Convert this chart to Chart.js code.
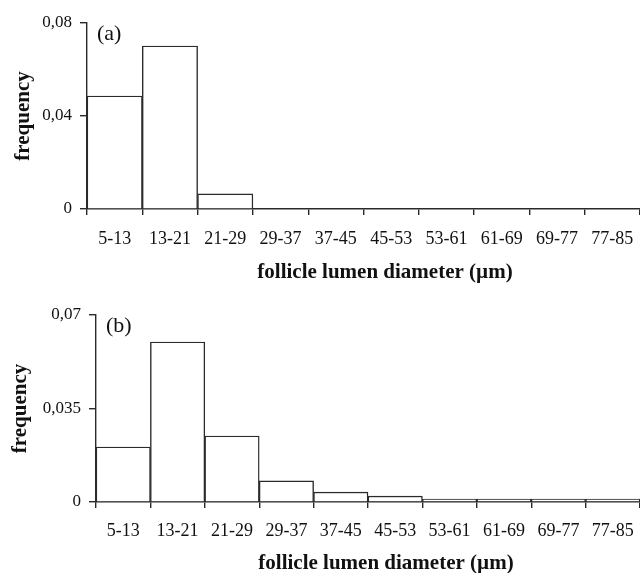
<!DOCTYPE html>
<html>
<head>
<meta charset="utf-8">
<script src="https://cdn.jsdelivr.net/npm/chart.js@4.4.1/dist/chart.umd.min.js"></script>
<style>
  html, body { margin: 0; padding: 0; background: #fff; }
  #wrap { position: relative; width: 640px; height: 573px; overflow: hidden; }
  .panel { position: absolute; left: 0; width: 640px; }
</style>
</head>
<body>
<div id="wrap">
  <div class="panel" style="top:0;height:290px"><canvas id="chartA"></canvas></div>
  <div class="panel" style="top:290px;height:283px"><canvas id="chartB"></canvas></div>
</div>
<script>
// bins (µm)
const binLabels = ['5-13', '13-21', '21-29', '29-37', '37-45', '45-53', '53-61', '61-69', '69-77', '77-85'];
// frequencies
const freqA = [0.0486, 0.0701, 0.0065, 0, 0, 0, 0, 0, 0, 0];
const freqB = [0.0206, 0.0599, 0.0247, 0.0079, 0.0037, 0.0022, 0.0011, 0.0011, 0.0011, 0.0011];
const yTicksA = [0, 0.04, 0.08];
const yTicksB = [0, 0.035, 0.07];

const serif = 'Liberation Serif';
const ink = '#2a2a2a';

// draws the panel tag "(a)"/"(b)" and the x title
const panelText = {
    id: 'panelText',
    afterDraw(chart, args, opts) {
        const ctx = chart.ctx;
        const area = chart.chartArea;
        ctx.save();
        ctx.fillStyle = '#111';
        ctx.textBaseline = 'middle';
        ctx.font = '22px "' + serif + '"';
        ctx.textAlign = 'left';
        ctx.fillText(opts.tag, area.left + 10, area.top + 11);
        ctx.font = 'bold 21px "' + serif + '"';
        ctx.textAlign = 'center';
        ctx.fillText(opts.xTitle, opts.titleX, opts.titleY);
        ctx.restore();
    }
};

function makeChart(id, data, yTicks, setup) {
    const ctx = document.getElementById(id).getContext('2d');
    return new Chart(ctx, {
        type: 'bar',
        data: {
            labels: binLabels,
            datasets: [{
                data: data,
                backgroundColor: '#fff',
                borderColor: ink,
                borderWidth: 1.4,
                barPercentage: 1,
                categoryPercentage: 1
            }]
        },
        options: {
            responsive: true,
            maintainAspectRatio: false,
            animation: false,
            layout: { padding: { top: setup.top, left: 0, right: 0, bottom: 0 } },
            plugins: {
                legend: { display: false },
                tooltip: { enabled: false },
                panelText: { tag: setup.tag, xTitle: 'follicle lumen diameter (µm)', titleX: setup.titleX, titleY: setup.titleY }
            },
            scales: {
                x: {
                    grid: { display: true, drawOnChartArea: false, drawTicks: true, tickLength: 6, color: ink, lineWidth: 1.4, offset: true },
                    border: { display: true, color: ink, width: 1.4 },
                    ticks: { color: '#111', font: { family: serif, size: 18 }, padding: setup.tickPad, maxRotation: 0, autoSkip: false },
                    afterFit: function (scale) {
                        scale.height = setup.xHeight;
                        // plot runs to the right edge, labels may touch it
                        scale.paddingLeft = 0;
                        scale.paddingRight = 0;
                    }
                },
                y: {
                    min: 0,
                    max: yTicks[yTicks.length - 1],
                    grid: { display: true, drawOnChartArea: false, drawTicks: true, tickLength: 7, color: ink, lineWidth: 1.4 },
                    border: { display: true, color: ink, width: 1.4 },
                    afterBuildTicks: function (scale) {
                        scale.ticks = yTicks.map(function (v) { return { value: v }; });
                    },
                    ticks: {
                        color: '#111',
                        font: { family: serif, size: 17 },
                        padding: 8,
                        callback: function (v) { return String(v).replace('.', ','); }
                    },
                    title: {
                        display: true,
                        text: 'frequency',
                        color: '#111',
                        font: { family: serif, size: 21, weight: 'bold' },
                        padding: { top: setup.yTitlePad, bottom: 0 }
                    },
                    afterFit: function (scale) { scale.width = setup.yWidth; }
                }
            }
        },
        plugins: [panelText]
    });
}

makeChart('chartA', freqA, yTicksA, {
    tag: '(a)', top: 23, yWidth: 87, xHeight: 81, tickPad: 13,
    yTitlePad: 11, titleX: 385, titleY: 273
});
makeChart('chartB', freqB, yTicksB, {
    tag: '(b)', top: 25, yWidth: 96, xHeight: 71, tickPad: 12,
    yTitlePad: 8, titleX: 386, titleY: 274
});
</script>
</body>
</html>
